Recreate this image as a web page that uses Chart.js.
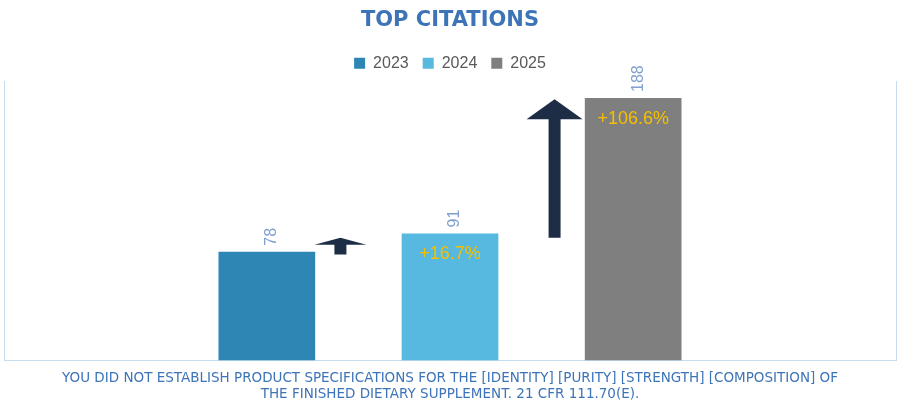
<!DOCTYPE html>
<html><head><meta charset="utf-8">
<script src="https://cdn.jsdelivr.net/npm/chart.js@4/dist/chart.umd.min.js"></script>
<style>html,body{margin:0;padding:0;background:#fff}#w{width:900px;height:415px}</style>
</head><body><div id="w"><canvas id="c"></canvas></div>
<script>
const categories = ["YOU DID NOT ESTABLISH PRODUCT SPECIFICATIONS FOR THE [IDENTITY] [PURITY] [STRENGTH] [COMPOSITION] OF", "THE FINISHED DIETARY SUPPLEMENT. 21 CFR 111.70(E)."];
const seriesNames = ["2023", "2024", "2025"];
const values2023 = [78];
const values2024 = [91];
const values2025 = [188];
const changes = ["", "+16.7%", "+106.6%"];
const colors = ["#2e86b4", "#57b9df", "#7f7f7f"];

const overlay = {
  id: 'overlay',
  afterDatasetsDraw(chart) {
    const ctx = chart.ctx, y = chart.scales.y;
    const vals = [values2023[0], values2024[0], values2025[0]];
    const bars = vals.map((v, i) => chart.getDatasetMeta(i).data[0]);
    ctx.save();
    bars.forEach((b, i) => {
      // value labels, rotated
      ctx.save();
      ctx.translate(b.x + 5, b.y - 6);
      ctx.rotate(-Math.PI / 2);
      ctx.fillStyle = '#7f9fcf';
      ctx.font = '16px "Liberation Sans", Arial';
      ctx.textAlign = 'left'; ctx.textBaseline = 'middle';
      ctx.fillText(String(vals[i]), 0, 0);
      ctx.restore();
      if (changes[i]) {
        ctx.fillStyle = '#f5c000';
        ctx.font = '18px "Liberation Sans", Arial';
        ctx.textAlign = 'center'; ctx.textBaseline = 'top';
        ctx.fillText(changes[i], b.x, b.y + 12);
      }
    });
    // arrows between bars
    function arrow(x, v0, v1, shaft, head, headH) {
      const y0 = y.getPixelForValue(v0), y1 = y.getPixelForValue(v1);
      ctx.fillStyle = '#1c2d45';
      ctx.beginPath();
      ctx.moveTo(x - shaft / 2, y0);
      ctx.lineTo(x - shaft / 2, y1 + headH);
      ctx.lineTo(x - head / 2, y1 + headH);
      ctx.lineTo(x, y1);
      ctx.lineTo(x + head / 2, y1 + headH);
      ctx.lineTo(x + shaft / 2, y1 + headH);
      ctx.lineTo(x + shaft / 2, y0);
      ctx.closePath(); ctx.fill();
    }
    const m1 = (bars[0].x + bars[1].x) / 2 - 18, m2 = (bars[1].x + bars[2].x) / 2 + 13;
    arrow(m1, values2023[0] - 2, values2023[0] + 10, 12, 52, 7);
    arrow(m2, values2024[0] - 3, values2025[0] - 1, 12, 56, 20);
    ctx.restore();
  }
};

new Chart(document.getElementById('c'), {
  type: 'bar',
  data: {
    labels: [categories],
    datasets: [
      { label: seriesNames[0], data: values2023, backgroundColor: colors[0] },
      { label: seriesNames[1], data: values2024, backgroundColor: colors[1] },
      { label: seriesNames[2], data: values2025, backgroundColor: colors[2] }
    ]
  },
  options: {
    responsive: true, maintainAspectRatio: false, animation: false,
    layout: { padding: { left: 4, right: 4, top: 2, bottom: 2 } },
    datasets: { bar: { categoryPercentage: 0.616, barPercentage: 0.528 } },
    plugins: {
      title: { display: true, text: 'TOP CITATIONS', color: '#3d74b8',
        font: { size: 21, family: '"DejaVu Sans", sans-serif', weight: 'bold' }, padding: { top: 6, bottom: 8 } },
      legend: { labels: { boxWidth: 11, boxHeight: 11, color: '#595959', padding: 14,
        font: { size: 16, family: '"Liberation Sans", Arial' } } },
      tooltip: { enabled: false }
    },
    scales: {
      x: { grid: { display: false, drawTicks: false }, border: { color: '#c5dcef' },
        ticks: { color: '#3d74b8', padding: 10, font: { size: 13.5, family: '"DejaVu Sans", sans-serif' } } },
      y: { min: 0, max: 200, display: true, ticks: { display: false }, grid: { display: false, drawTicks: false },
        border: { color: '#c5dcef' } },
      y2: { position: 'right', min: 0, max: 200, ticks: { display: false }, grid: { display: false, drawTicks: false },
        border: { color: '#c5dcef' } }
    }
  },
  plugins: [overlay]
});
</script></body></html>
